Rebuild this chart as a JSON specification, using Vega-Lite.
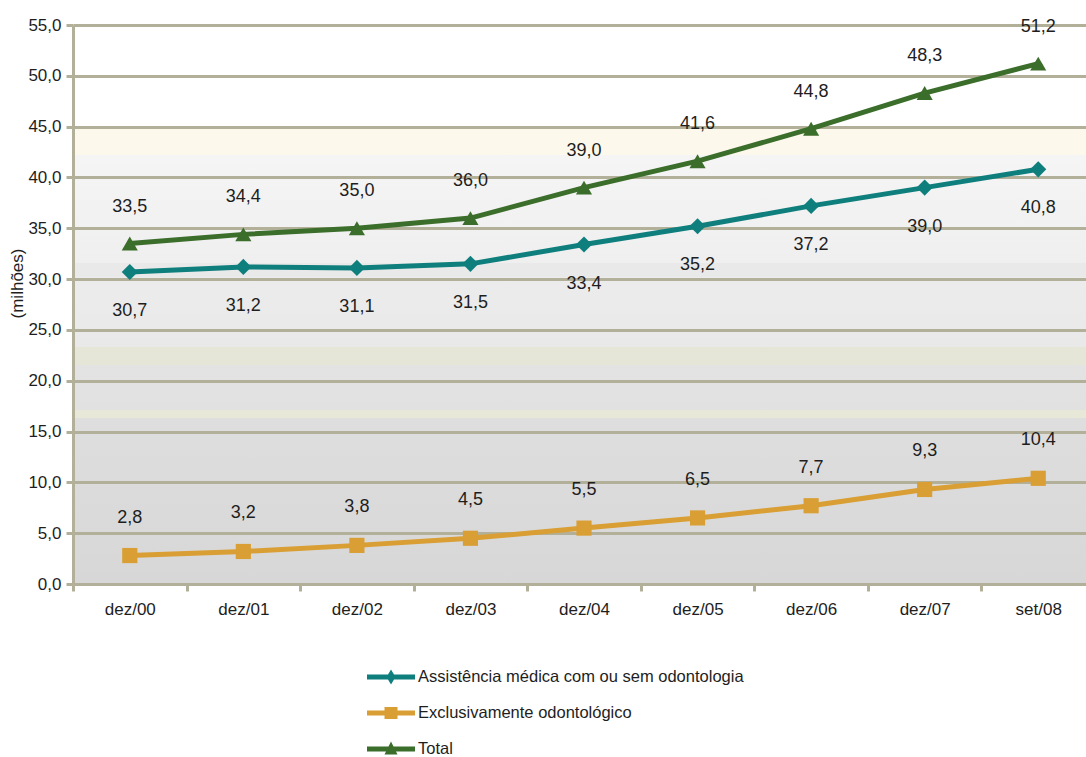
{
  "$schema": "https://vega.github.io/schema/vega-lite/v6.json",
  "autosize": {"type": "none"},
  "padding": {"left": 73, "top": 25, "right": -9, "bottom": 173},
  "width": 1022,
  "height": 559,
  "view": {
    "stroke": null,
    "fill": {
      "gradient": "linear", "x1": 0, "y1": 0, "x2": 0, "y2": 1,
      "stops": [
        {"offset": 0, "color": "#ffffff"},
        {"offset": 0.182, "color": "#ffffff"},
        {"offset": 0.182, "color": "#fdf8ec"},
        {"offset": 0.233, "color": "#fdf8ec"},
        {"offset": 0.233, "color": "#f5f5f5"},
        {"offset": 0.426, "color": "#efefef"},
        {"offset": 0.426, "color": "#e9e9e9"},
        {"offset": 0.451, "color": "#e9e9e9"},
        {"offset": 0.451, "color": "#ececec"},
        {"offset": 0.576, "color": "#e9e9e9"},
        {"offset": 0.576, "color": "#e6e6d8"},
        {"offset": 0.608, "color": "#e6e6d8"},
        {"offset": 0.608, "color": "#e3e3e3"},
        {"offset": 0.689, "color": "#e1e1e1"},
        {"offset": 0.689, "color": "#e8e8d8"},
        {"offset": 0.703, "color": "#e8e8d8"},
        {"offset": 0.703, "color": "#dedede"},
        {"offset": 1, "color": "#d7d7d7"}
      ]
    }
  },
  "config": {
    "locale": {"number": {"decimal": ",", "thousands": ".", "grouping": [3], "currency": ["R$", ""]}},
    "font": "Liberation Sans, Arial, sans-serif",
    "axis": {
      "labelFont": "Liberation Sans, Arial, sans-serif",
      "labelFontSize": 17,
      "labelColor": "#1e1e1e",
      "domainColor": "#b3b09a",
      "domainWidth": 3,
      "tickColor": "#b3b09a",
      "tickWidth": 3,
      "gridColor": "#b3b09a",
      "gridWidth": 3,
      "gridOpacity": 1
    }
  },
  "data": {
    "values": [
      {"periodo": "dez/00", "serie": "Assistência médica com ou sem odontologia", "valor": 30.7},
      {"periodo": "dez/01", "serie": "Assistência médica com ou sem odontologia", "valor": 31.2},
      {"periodo": "dez/02", "serie": "Assistência médica com ou sem odontologia", "valor": 31.1},
      {"periodo": "dez/03", "serie": "Assistência médica com ou sem odontologia", "valor": 31.5},
      {"periodo": "dez/04", "serie": "Assistência médica com ou sem odontologia", "valor": 33.4},
      {"periodo": "dez/05", "serie": "Assistência médica com ou sem odontologia", "valor": 35.2},
      {"periodo": "dez/06", "serie": "Assistência médica com ou sem odontologia", "valor": 37.2},
      {"periodo": "dez/07", "serie": "Assistência médica com ou sem odontologia", "valor": 39.0},
      {"periodo": "set/08", "serie": "Assistência médica com ou sem odontologia", "valor": 40.8},
      {"periodo": "dez/00", "serie": "Exclusivamente odontológico", "valor": 2.8},
      {"periodo": "dez/01", "serie": "Exclusivamente odontológico", "valor": 3.2},
      {"periodo": "dez/02", "serie": "Exclusivamente odontológico", "valor": 3.8},
      {"periodo": "dez/03", "serie": "Exclusivamente odontológico", "valor": 4.5},
      {"periodo": "dez/04", "serie": "Exclusivamente odontológico", "valor": 5.5},
      {"periodo": "dez/05", "serie": "Exclusivamente odontológico", "valor": 6.5},
      {"periodo": "dez/06", "serie": "Exclusivamente odontológico", "valor": 7.7},
      {"periodo": "dez/07", "serie": "Exclusivamente odontológico", "valor": 9.3},
      {"periodo": "set/08", "serie": "Exclusivamente odontológico", "valor": 10.4},
      {"periodo": "dez/00", "serie": "Total", "valor": 33.5},
      {"periodo": "dez/01", "serie": "Total", "valor": 34.4},
      {"periodo": "dez/02", "serie": "Total", "valor": 35.0},
      {"periodo": "dez/03", "serie": "Total", "valor": 36.0},
      {"periodo": "dez/04", "serie": "Total", "valor": 39.0},
      {"periodo": "dez/05", "serie": "Total", "valor": 41.6},
      {"periodo": "dez/06", "serie": "Total", "valor": 44.8},
      {"periodo": "dez/07", "serie": "Total", "valor": 48.3},
      {"periodo": "set/08", "serie": "Total", "valor": 51.2}
    ]
  },
  "encoding": {
    "x": {
      "field": "periodo", "type": "ordinal", "sort": null,
      "scale": {"type": "band", "paddingInner": 0, "paddingOuter": 0},
      "axis": {"title": null, "tickBand": "extent", "tickSize": 7, "labelPadding": 10, "labelAngle": 0, "grid": false}
    },
    "y": {
      "field": "valor", "type": "quantitative",
      "scale": {"domain": [0, 55], "nice": false, "zero": true},
      "axis": {
        "values": [0, 5, 10, 15, 20, 25, 30, 35, 40, 45, 50, 55],
        "format": ".1f", "grid": true, "tickSize": 7, "labelPadding": 5,
        "title": "(milhões)", "titleFont": "Liberation Sans, Arial, sans-serif", "titleFontSize": 17, "titleFontWeight": "normal",
        "titleColor": "#1e1e1e", "titleAngle": 270, "titleX": -56, "titleY": 258, "titleAlign": "center", "titleBaseline": "middle"
      }
    },
    "color": {
      "field": "serie", "type": "nominal",
      "scale": {
        "domain": ["Assistência médica com ou sem odontologia", "Exclusivamente odontológico", "Total"],
        "range": ["#0f7f7d", "#d99e34", "#3b6d2b"]
      },
      "legend": {
        "title": null, "orient": "none", "legendX": 308, "legendY": 642, "padding": 0,
        "symbolSize": 400, "labelOffset": 17, "rowPadding": 17,
        "labelFont": "Liberation Sans, Arial, sans-serif",
        "labelFontSize": 16.5, "labelColor": "#1e1e1e", "labelLimit": 600,
        "encode": {
          "symbols": {
            "update": {
              "shape": {"signal": "datum.value === 'Total' ? 'M-2.4,-0.25H2.4V0.25H-2.4Z M0,-0.75L0.65,0.55H-0.65Z' : datum.value === 'Exclusivamente odontológico' ? 'M-2.4,-0.25H2.4V0.25H-2.4Z M-0.65,-0.6H0.65V0.6H-0.65Z' : 'M-2.4,-0.25H2.4V0.25H-2.4Z M0,-0.75L0.45,0L0,0.75L-0.45,0Z'"},
              "fill": {"signal": "scale('color', datum.value)"},
              "fillOpacity": {"value": 1},
              "opacity": {"value": 1},
              "strokeWidth": {"value": 0}
            }
          }
        }
      }
    }
  },
  "layer": [
    {
      "mark": {"type": "line", "strokeWidth": 5}
    },
    {
      "transform": [{"filter": "datum.serie === 'Assistência médica com ou sem odontologia'"}],
      "mark": {"type": "point", "filled": true, "opacity": 1, "size": 260, "shape": "diamond"}
    },
    {
      "transform": [{"filter": "datum.serie === 'Exclusivamente odontológico'"}],
      "mark": {"type": "point", "filled": true, "opacity": 1, "size": 230, "shape": "square"}
    },
    {
      "transform": [{"filter": "datum.serie === 'Total'"}],
      "mark": {"type": "point", "filled": true, "opacity": 1, "size": 260, "shape": "triangle-up"}
    },
    {
      "transform": [{"filter": "datum.serie === 'Total'"}],
      "mark": {"type": "text", "dy": -37, "fontSize": 18},
      "encoding": {"text": {"field": "valor", "type": "quantitative", "format": ".1f"}, "color": {"value": "#1e1e1e"}}
    },
    {
      "transform": [{"filter": "datum.serie === 'Exclusivamente odontológico'"}],
      "mark": {"type": "text", "dy": -38, "fontSize": 18},
      "encoding": {"text": {"field": "valor", "type": "quantitative", "format": ".1f"}, "color": {"value": "#1e1e1e"}}
    },
    {
      "transform": [{"filter": "datum.serie === 'Assistência médica com ou sem odontologia'"}],
      "mark": {"type": "text", "dy": 39, "fontSize": 18},
      "encoding": {"text": {"field": "valor", "type": "quantitative", "format": ".1f"}, "color": {"value": "#1e1e1e"}}
    }
  ]
}
